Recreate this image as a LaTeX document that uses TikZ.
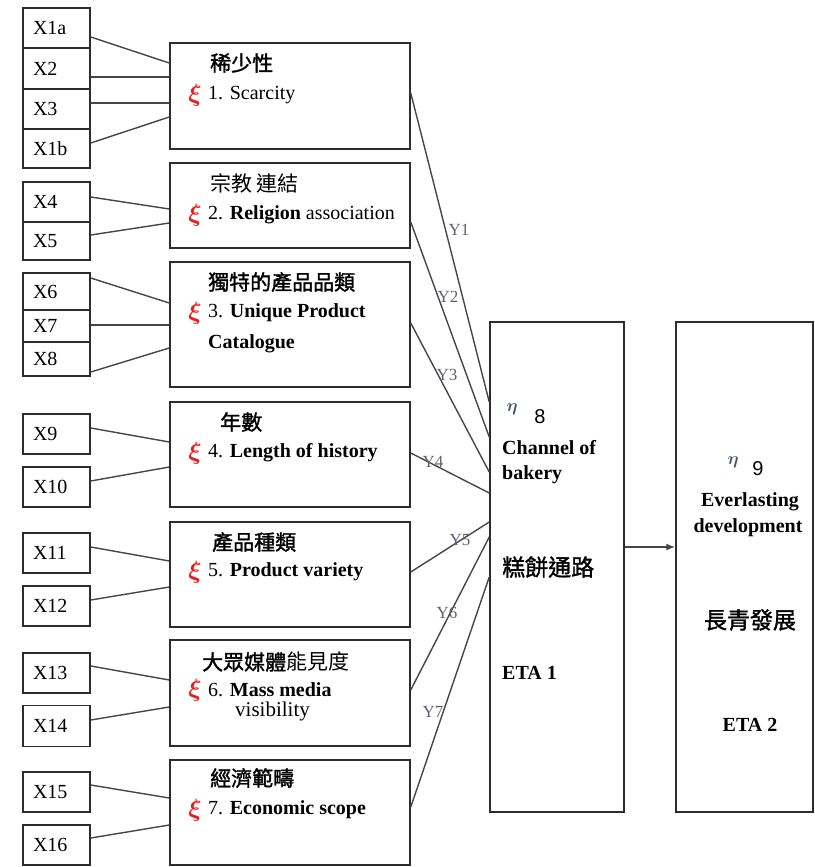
\documentclass[tikz,border=0pt]{standalone}
\usepackage{fontspec}
\usepackage{amsmath}
\setmainfont{Liberation Serif}
\newfontfamily\cjk{Noto Sans CJK TC}
\newfontfamily\cjkb{Noto Sans CJK TC}[FakeBold=1.5]
\newfontfamily\sansd{Liberation Sans}
\usetikzlibrary{arrows.meta}
\definecolor{boxc}{RGB}{45,45,45}
\definecolor{linec}{RGB}{70,70,70}
\definecolor{ylab}{RGB}{95,95,120}
\definecolor{xired}{RGB}{235,30,30}
\definecolor{etac}{RGB}{70,80,115}
\begin{document}
\begin{tikzpicture}[x=1pt,y=-1pt,
 xbox/.style={draw=boxc,line width=1.5pt,minimum width=67pt,text width=47pt,inner xsep=10pt,inner ysep=0pt,align=left,font=\fontsize{20}{20}\selectfont},
 lbox/.style={draw=boxc,line width=1.5pt,minimum width=240pt,inner sep=0pt},
 ebox/.style={draw=boxc,line width=1.5pt,inner sep=0pt},
 conn/.style={draw=linec,line width=1.4pt},
 txt/.style={anchor=west,inner sep=0pt},
 cjkt/.style={txt,font=\cjkb\fontsize{21}{21}\selectfont},
 cjkr/.style={txt,font=\cjk\fontsize{21}{21}\selectfont},
 bld/.style={txt,font=\fontsize{20}{20}\selectfont},
 xisym/.style={inner sep=0pt,text=xired,font=\fontsize{23}{23}\selectfont},
 ylabel/.style={inner sep=0pt,text=ylab,font=\fontsize{17}{17}\selectfont},
]
\useasboundingbox (0,0) rectangle (814,867);
% X boxes
\node[xbox,minimum height=40pt] (x1a) at (56.5,28) {X1a};
\node[xbox,minimum height=41pt] (x2) at (56.5,68.5) {X2};
\node[xbox,minimum height=40pt] (x3) at (56.5,109) {X3};
\node[xbox,minimum height=39pt] (x1b) at (56.5,148.5) {X1b};
\node[xbox,minimum height=40pt] (x4) at (56.5,202) {X4};
\node[xbox,minimum height=38pt] (x5) at (56.5,241) {X5};
\node[xbox,minimum height=37pt] (x6) at (56.5,291.5) {X6};
\node[xbox,minimum height=32pt] (x7) at (56.5,326) {X7};
\node[xbox,minimum height=34pt] (x8) at (56.5,359) {X8};
\node[xbox,minimum height=40pt] (x9) at (56.5,434) {X9};
\node[xbox,minimum height=40pt] (x10) at (56.5,487) {X10};
\node[xbox,minimum height=40pt] (x11) at (56.5,553) {X11};
\node[xbox,minimum height=40pt] (x12) at (56.5,606) {X12};
\node[xbox,minimum height=40pt] (x13) at (56.5,673) {X13};
\node[xbox,minimum height=41pt] (x14) at (56.5,726) {X14};
\node[xbox,minimum height=40pt] (x15) at (56.5,792) {X15};
\node[xbox,minimum height=40pt] (x16) at (56.5,845) {X16};
% latent boxes
\node[lbox,minimum height=106pt] (b1) at (290,96) {};
\node[lbox,minimum height=85pt] (b2) at (290,205.5) {};
\node[lbox,minimum height=125pt] (b3) at (290,324.5) {};
\node[lbox,minimum height=105pt] (b4) at (290,454.5) {};
\node[lbox,minimum height=105pt] (b5) at (290,574.5) {};
\node[lbox,minimum height=106pt] (b6) at (290,693) {};
\node[lbox,minimum height=105pt] (b7) at (290,812.5) {};
% eta boxes
\node[ebox,minimum width=134pt,minimum height=490pt] (e1) at (557,567) {};
\node[ebox,minimum width=137pt,minimum height=490pt] (e2) at (744.5,567) {};
% box 1 text
\node[cjkt] (t1c) at (210,63) {稀少性};
\node[xisym] (xi1) at (195,95) {$\boldsymbol{\xi}$};
\node[bld] (t1) at (208,95) {1. Scarcity};
% box 2
\node[cjkr] (t2c) at (210,183) {宗教 連結};
\node[xisym] (xi2) at (195,215) {$\boldsymbol{\xi}$};
\node[bld] (t2) at (208,215) {2. \textbf{Religion} association};
% box 3
\node[cjkt] (t3c) at (208,282) {獨特的產品品類};
\node[xisym] (xi3) at (195,313) {$\boldsymbol{\xi}$};
\node[bld] (t3) at (208,313) {3. \textbf{Unique Product}};
\node[bld] (t3b) at (208,344) {\textbf{Catalogue}};
% box 4
\node[cjkt] (t4c) at (220,422) {年數};
\node[xisym] (xi4) at (195,453) {$\boldsymbol{\xi}$};
\node[bld] (t4) at (208,453) {4. \textbf{Length of history}};
% box 5
\node[cjkt] (t5c) at (212,542) {產品種類};
\node[xisym] (xi5) at (195,572) {$\boldsymbol{\xi}$};
\node[bld] (t5) at (208,572) {5. \textbf{Product variety}};
% box 6
\node[cjkr] (t6c) at (202,662) {\cjkb 大眾媒體\cjk 能見度};
\node[xisym] (xi6) at (195,690) {$\boldsymbol{\xi}$};
\node[bld] (t6) at (208,690) {6. \textbf{Mass media}};
\node[txt,font=\fontsize{21}{21}\selectfont] (t6b) at (235,711) {visibility};
% box 7
\node[cjkt] (t7c) at (210,778) {經濟範疇};
\node[xisym] (xi7) at (195,810) {$\boldsymbol{\xi}$};
\node[bld] (t7) at (208,810) {7. \textbf{Economic scope}};
% eta 1 text
\node[inner sep=0pt,text=etac,font=\fontsize{17}{17}\selectfont] (eta1) at (512,409) {$\boldsymbol{\eta}$};
\node[inner sep=0pt,font=\sansd\fontsize{20}{20}\selectfont] (n8) at (540,417) {8};
\node[bld,font=\bfseries\fontsize{20}{20}\selectfont] (ch) at (502,448) {Channel of};
\node[bld,font=\bfseries\fontsize{20}{20}\selectfont] (bk) at (502,475) {bakery};
\node[txt,font=\cjkb\fontsize{23}{23}\selectfont] (gb) at (502,567) {糕餅通路};
\node[bld,font=\bfseries\fontsize{20}{20}\selectfont] (eta1t) at (502,673) {ETA 1};
% eta 2 text
\node[inner sep=0pt,text=etac,font=\fontsize{17}{17}\selectfont] (eta2) at (733,462) {$\boldsymbol{\eta}$};
\node[inner sep=0pt,font=\sansd\fontsize{20}{20}\selectfont] (n9) at (758,469) {9};
\node[inner sep=0pt,font=\bfseries\fontsize{20}{20}\selectfont] (ev) at (750,502) {Everlasting};
\node[inner sep=0pt,font=\bfseries\fontsize{20}{20}\selectfont] (dv) at (748,528) {development};
\node[inner sep=0pt,font=\cjkb\fontsize{23}{23}\selectfont] (cq) at (750,620) {長青發展};
\node[inner sep=0pt,font=\bfseries\fontsize{20}{20}\selectfont] (eta2t) at (750,725) {ETA 2};
% X to latent connectors
\draw[conn] (x1a.east |- 0,37) -- (b1.west |- 0,63);
\draw[conn] (x2.east |- 0,77) -- (b1.west |- 0,77);
\draw[conn] (x3.east |- 0,103) -- (b1.west |- 0,103);
\draw[conn] (x1b.east |- 0,143) -- (b1.west |- 0,117);
\draw[conn] (x4.east |- 0,197) -- (b2.west |- 0,209);
\draw[conn] (x5.east |- 0,235) -- (b2.west |- 0,223);
\draw[conn] (x6.east |- 0,278) -- (b3.west |- 0,303);
\draw[conn] (x7.east |- 0,325) -- (b3.west |- 0,325);
\draw[conn] (x8.east |- 0,372) -- (b3.west |- 0,348);
\draw[conn] (x9.east |- 0,428) -- (b4.west |- 0,442);
\draw[conn] (x10.east |- 0,481) -- (b4.west |- 0,467);
\draw[conn] (x11.east |- 0,547) -- (b5.west |- 0,561);
\draw[conn] (x12.east |- 0,600) -- (b5.west |- 0,587);
\draw[conn] (x13.east |- 0,666) -- (b6.west |- 0,680);
\draw[conn] (x14.east |- 0,720) -- (b6.west |- 0,707);
\draw[conn] (x15.east |- 0,785) -- (b7.west |- 0,798);
\draw[conn] (x16.east |- 0,838) -- (b7.west |- 0,825);
% latent to eta1 connectors
\draw[conn] (b1.east |- 0,93) -- (e1.west |- 0,402);
\draw[conn] (b2.east |- 0,222) -- (e1.west |- 0,437);
\draw[conn] (b3.east |- 0,323) -- (e1.west |- 0,472);
\draw[conn] (b4.east |- 0,453) -- (e1.west |- 0,493);
\draw[conn] (b5.east |- 0,572) -- (e1.west |- 0,522);
\draw[conn] (b6.east |- 0,690) -- (e1.west |- 0,537);
\draw[conn] (b7.east |- 0,807) -- (e1.west |- 0,577);
% Y labels
\node[ylabel] (y1) at (459,230) {Y1};
\node[ylabel] (y2) at (448,297) {Y2};
\node[ylabel] (y3) at (447,375) {Y3};
\node[ylabel] (y4) at (433,462) {Y4};
\node[ylabel] (y5) at (460,540) {Y5};
\node[ylabel] (y6) at (447,613) {Y6};
\node[ylabel] (y7) at (433,712) {Y7};
% arrow
\draw[conn,-{Latex[length=9pt,width=7pt]}] (e1.east |- 0,547) -- (e2.west |- 0,547);
\end{tikzpicture}
\end{document}
